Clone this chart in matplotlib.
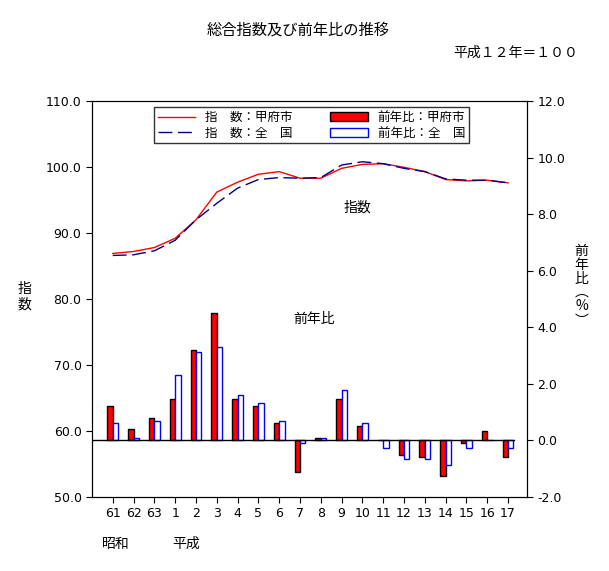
import matplotlib
matplotlib.use("Agg")
import matplotlib.pyplot as plt
import numpy as np
from matplotlib.lines import Line2D
from matplotlib.patches import Patch

plt.rcParams["font.family"] = "Noto Sans CJK JP"

categories = ["61","62","63","1","2","3","4","5","6","7","8","9","10","11","12","13","14","15","16","17"]
index_kofu = [86.9,87.2,87.8,89.2,92.0,96.2,97.7,98.9,99.3,98.3,98.3,99.8,100.4,100.5,99.95,99.3,98.1,97.9,98.0,97.6]
index_zenkoku = [86.6,86.7,87.3,88.9,92.0,94.5,96.8,98.1,98.4,98.3,98.4,100.3,100.8,100.5,99.8,99.3,98.2,98.0,98.0,97.6]
yoy_kofu = [1.2,0.42,0.81,1.48,3.18,4.49,1.48,1.2,0.6,-1.1,0.1,1.48,0.5,0.0,-0.5,-0.6,-1.27,-0.1,0.32,-0.6]
yoy_zenkoku = [0.6,0.1,0.7,2.3,3.11,3.29,1.59,1.31,0.7,-0.1,0.1,1.8,0.6,-0.28,-0.67,-0.67,-0.88,-0.28,0.0,-0.28]

fig = plt.figure(figsize=(6.09,5.71), dpi=100)
ax = fig.add_axes([0.151,0.1296,0.714,0.6935])
ax2 = ax.twinx()
x = np.arange(len(categories))
w = 0.26
ax2.bar(x-w/2, yoy_kofu, w, color="red", edgecolor="black", linewidth=1)
ax2.bar(x+w/2, yoy_zenkoku, w, color="white", edgecolor="blue", linewidth=1)
ax2.axhline(0, color="black", lw=1, xmin=0.0, xmax=0.97)
ax2.set_ylim(-2,12)
ax2.set_yticks(np.arange(-2,13,2))
ax2.set_yticklabels([f"{v:.1f}" for v in np.arange(-2,13,2)], fontfamily="DejaVu Sans", fontsize=9)

ax.plot(x, index_kofu, color="red", lw=1)
ax.plot(x, index_zenkoku, color="#000080", lw=1, dashes=(10,4))
ax.set_ylim(50,110)
ax.set_yticks(np.arange(50,111,10))
ax.set_yticklabels([f"{v:.1f}" for v in np.arange(50,111,10)], fontfamily="DejaVu Sans", fontsize=9)
ax.set_xlim(-1.0,19.9)
ax.set_xticks(x)
ax.set_xticklabels(categories, fontfamily="DejaVu Sans", fontsize=9)
ax.set_zorder(ax2.get_zorder()+1); ax.patch.set_visible(False)
for a in (ax, ax2):
    a.tick_params(direction="out", length=4)

handles = [Line2D([],[],color="red",lw=1), Line2D([],[],color="#000080",lw=1,dashes=(10,4)),
           Patch(facecolor="red",edgecolor="black"), Patch(facecolor="white",edgecolor="blue")]
labels = ["指　数：甲府市","指　数：全　国","前年比：甲府市","前年比：全　国"]
ax.legend(handles, labels, ncol=2, loc="upper center", bbox_to_anchor=(0.505,1.0), fancybox=False,
          edgecolor="black", fontsize=9, handlelength=3.0, columnspacing=3, borderpad=0.3, labelspacing=0.2)

ax.text(0.61,0.72,"指数",transform=ax.transAxes,fontsize=10,ha="center")
ax.text(0.51,0.44,"前年比",transform=ax.transAxes,fontsize=10,ha="center")
fig.text(0.49,0.94,"総合指数及び前年比の推移",fontsize=11,ha="center")
fig.text(0.95,0.9,"平成１２年＝１００",fontsize=10,ha="right")
fig.text(0.04,0.48,"指\n数",fontsize=10,ha="center",va="center",linespacing=1.1)
fig.text(0.955,0.50,"前\n年\n比\n︵\n%\n︶",fontsize=10,ha="center",va="center",linespacing=1.0)
fig.text(0.19,0.04,"昭和",fontsize=10,ha="center")
fig.text(0.305,0.04,"平成",fontsize=10,ha="center")
fig.savefig("out.png", dpi=100)
